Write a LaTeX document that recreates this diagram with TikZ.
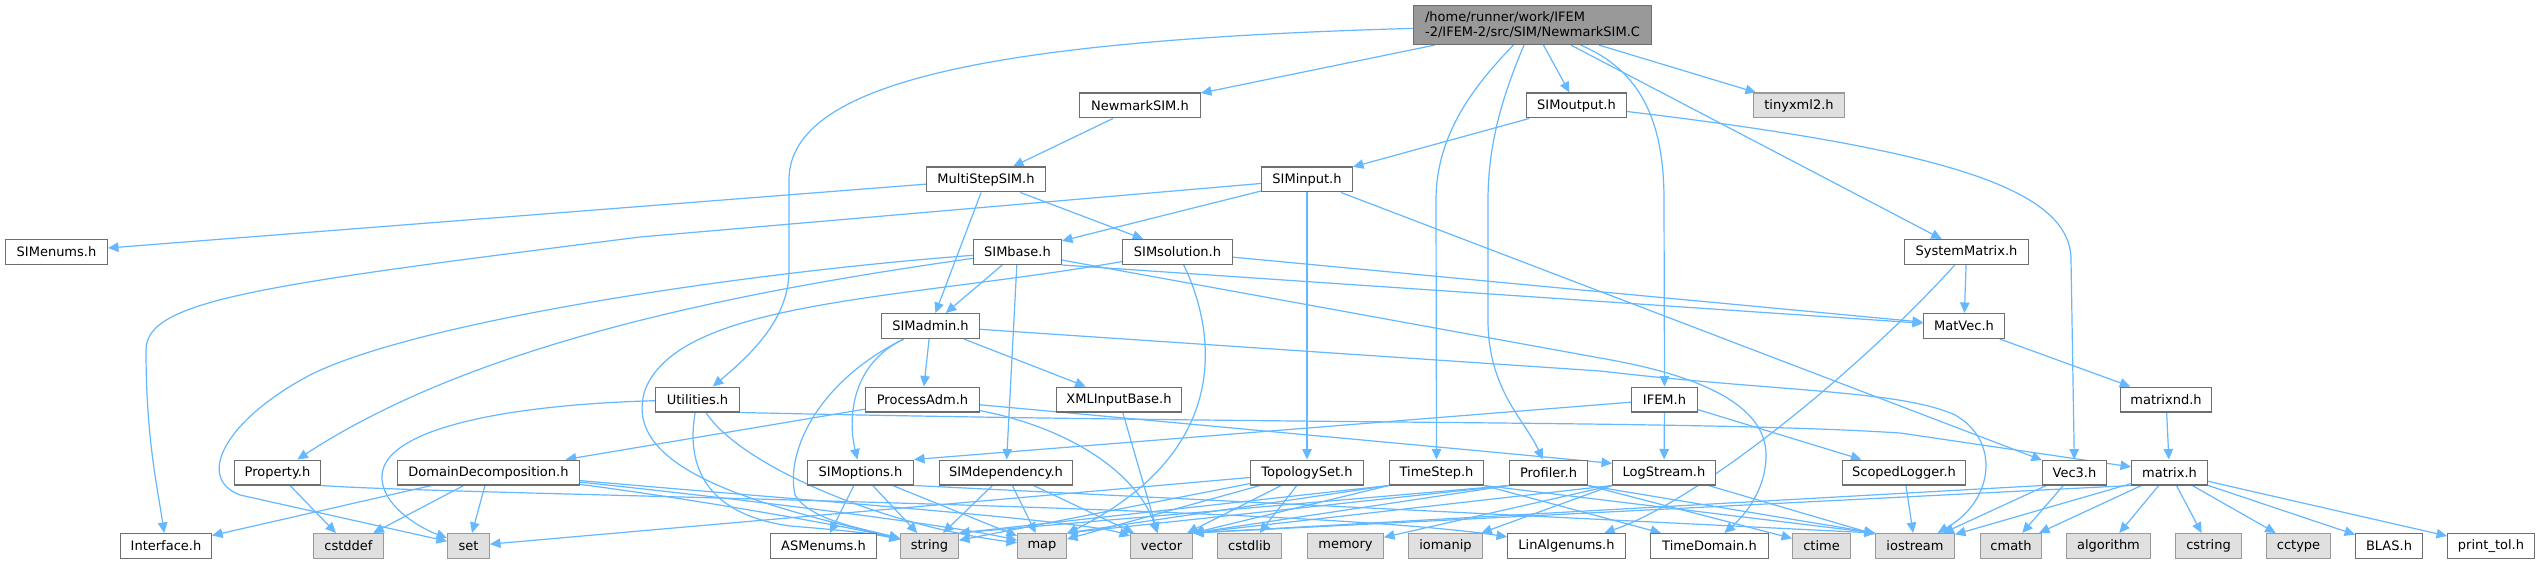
\documentclass[tikz,border=0pt]{standalone}
\usepackage{fontspec}
\setmainfont{DejaVu Sans}
\usetikzlibrary{arrows.meta}
\definecolor{cdark}{HTML}{6E6E6E}
\definecolor{cmid}{HTML}{999999}
\definecolor{cext}{HTML}{E0E0E0}
\definecolor{eblue}{HTML}{63B8FF}
\pgfdeclarelayer{bglayer}
\pgfdeclarelayer{edgelayer}
\pgfsetlayers{bglayer,edgelayer,main}
\tikzset{
  basebox/.style={rectangle, draw, inner sep=0pt, minimum height=24.8pt, line width=1.2pt,
    font=\fontsize{13}{15}\selectfont, text=black},
  nrm/.style={basebox, draw=cdark, fill=white},
  ext/.style={basebox, draw=cmid, fill=cext},
  rootbox/.style={basebox, draw=cdark, fill=cmid, minimum height=39pt, align=left},
  dep/.style={draw=eblue, line width=1.2pt, -{Triangle[length=10.5pt,width=9.5pt]}}
}
\newcommand\mknode[6]{\node[#1, minimum width=#5pt-1.2pt] (#2) at (#3,#4) {#6};}
\begin{document}
\begin{tikzpicture}[x=1pt,y=-1pt]
\useasboundingbox (0,0) rectangle (2543,564);
\begin{pgfonlayer}{bglayer}
\fill[white] (0,0) rectangle (2543,564);
\end{pgfonlayer}
% row 0
\mknode{rootbox}{root}{1532.5}{25}{239}{/home/runner/work/IFEM\\-2/IFEM-2/src/SIM/NewmarkSIM.C}
% row 1
\mknode{nrm}{nsim}{1140}{105.5}{122}{NewmarkSIM.h}
\mknode{nrm}{sout}{1576.5}{105.5}{101}{SIMoutput.h}
\mknode{ext}{txml}{1799}{105.5}{92}{tinyxml2.h}
% row 2
\mknode{nrm}{msim}{986}{179.5}{120}{MultiStepSIM.h}
\mknode{nrm}{sinp}{1307}{179.5}{92}{SIMinput.h}
% row 3
\mknode{nrm}{senum}{56.5}{252}{103}{SIMenums.h}
\mknode{nrm}{sbase}{1017.5}{252}{89}{SIMbase.h}
\mknode{nrm}{ssol}{1177.5}{252}{111}{SIMsolution.h}
\mknode{nrm}{sysm}{1966.5}{252}{125}{SystemMatrix.h}
% row 4
\mknode{nrm}{sadm}{930.5}{326}{99}{SIMadmin.h}
\mknode{nrm}{matvec}{1964}{326}{82}{MatVec.h}
% row 5
\mknode{nrm}{util}{697.5}{399.5}{85}{Utilities.h}
\mknode{nrm}{padm}{922.5}{399.5}{115}{ProcessAdm.h}
\mknode{nrm}{xml}{1119}{399.5}{126}{XMLInputBase.h}
\mknode{nrm}{ifem}{1664.5}{399.5}{67}{IFEM.h}
\mknode{nrm}{mnd}{2166}{399.5}{92}{matrixnd.h}
% row 6
\mknode{nrm}{prop}{277.5}{472.5}{87}{Property.h}
\mknode{nrm}{dd}{488.5}{472.5}{183}{DomainDecomposition.h}
\mknode{nrm}{sopt}{860.5}{472.5}{107}{SIMoptions.h}
\mknode{nrm}{sdep}{1006}{472.5}{134}{SIMdependency.h}
\mknode{nrm}{topo}{1307}{472.5}{114}{TopologySet.h}
\mknode{nrm}{tstep}{1436.5}{472.5}{95}{TimeStep.h}
\mknode{nrm}{prof}{1548.5}{472.5}{79}{Profiler.h}
\mknode{nrm}{logs}{1664}{472.5}{104}{LogStream.h}
\mknode{nrm}{scl}{1904}{472.5}{124}{ScopedLogger.h}
\mknode{nrm}{vec3}{2074.5}{472.5}{65}{Vec3.h}
\mknode{nrm}{mat}{2169.5}{472.5}{77}{matrix.h}
% row 7
\mknode{nrm}{iface}{166}{546}{92}{Interface.h}
\mknode{ext}{cstddef}{348.5}{546}{71}{cstddef}
\mknode{ext}{set}{468.5}{546}{43}{set}
\mknode{nrm}{asme}{823.5}{546}{107}{ASMenums.h}
\mknode{ext}{str}{929.5}{546}{59}{string}
\mknode{ext}{map}{1042}{546}{50}{map}
\mknode{ext}{vec}{1161.5}{546}{63}{vector}
\mknode{ext}{cstdlib}{1249.5}{546}{65}{cstdlib}
\mknode{ext}{memory}{1345.5}{546}{77}{memory}
\mknode{ext}{iomanip}{1445.5}{546}{75}{iomanip}
\mknode{nrm}{linalg}{1566.5}{546}{119}{LinAlgenums.h}
\mknode{nrm}{tdom}{1709.5}{546}{119}{TimeDomain.h}
\mknode{ext}{ctime}{1821.5}{546}{59}{ctime}
\mknode{ext}{iostr}{1915}{546}{80}{iostream}
\mknode{ext}{cmath}{2011}{546}{62}{cmath}
\mknode{ext}{algo}{2108.5}{546}{85}{algorithm}
\mknode{ext}{cstring}{2208.5}{546}{67}{cstring}
\mknode{ext}{cctype}{2298.5}{546}{65}{cctype}
\mknode{nrm}{blas}{2389}{546}{68}{BLAS.h}
\mknode{nrm}{ptol}{2491}{546}{88}{print\_tol.h}

\begin{pgfonlayer}{edgelayer}
% root
\draw[dep] (root) -- (nsim);
\draw[dep] (root) -- (sout);
\draw[dep] (root) -- (txml);
\draw[dep] (root) -- (sysm);
\draw[dep] (root) .. controls (1000,40) and (789,80) .. (789,180) -- (789,270) .. controls (789,320) and (750,355) .. (util);
\draw[dep] (root) .. controls (1480,80) and (1436,130) .. (1436,200) -- (tstep);
\draw[dep] (root) .. controls (1505,90) and (1488,140) .. (1488,200) -- (1488,320) .. controls (1488,390) and (1525,420) .. (prof);
\draw[dep] (root) .. controls (1640,70) and (1664,120) .. (1664,200) -- (ifem);
% SIMoutput
\draw[dep] (sout) -- (sinp);
\draw[dep] (sout) .. controls (1950,150) and (2071,190) .. (2071,260) -- (vec3);
% NewmarkSIM, MultiStepSIM
\draw[dep] (nsim) -- (msim);
\draw[dep] (msim) -- (senum);
\draw[dep] (msim) -- (ssol);
\draw[dep] (msim) -- (sadm);
% SIMinput
\draw[dep] (sinp) -- (sbase);
\draw[dep] (sinp) -- (topo);
\draw[dep] (sinp) -- (vec3);
\draw[dep] (sinp) -- (640,237) .. controls (260,285) and (146,300) .. (146,350) .. controls (146,440) and (158,490) .. (iface);
% SIMbase
\draw[dep] (sbase) -- (sadm);
\draw[dep] (sbase) -- (sdep);
\draw[dep] (sbase.south east) -- (matvec);
\draw[dep] (sbase) .. controls (750,272) and (420,320) .. (310,375) .. controls (225,420) and (195,478) .. (240,495) -- (set);
\draw[dep] (sbase) .. controls (750,290) and (480,340) .. (prop);
\draw[dep] (sbase) -- (1600,358) .. controls (1700,375) and (1766,405) .. (1766,455) .. controls (1766,490) and (1745,515) .. (tdom);
% SIMsolution
\draw[dep] (ssol) -- (matvec);
\draw[dep] (ssol) .. controls (1215,330) and (1235,450) .. (map);
\draw[dep] (ssol) .. controls (900,300) and (680,300) .. (645,390) .. controls (620,470) and (760,505) .. (str);
% SystemMatrix, MatVec
\draw[dep] (sysm) -- (matvec);
\draw[dep] (sysm) .. controls (1860,370) and (1700,500) .. (linalg);
\draw[dep] (matvec) -- (mnd);
\draw[dep] (mnd) -- (mat);
% SIMadmin
\draw[dep] (sadm) -- (padm);
\draw[dep] (sadm) -- (xml);
\draw[dep] (sadm) .. controls (850,365) and (848,420) .. (sopt);
\draw[dep] (sadm) .. controls (820,380) and (785,450) .. (795,495) .. controls (810,520) and (860,528) .. (str);
\draw[dep] (sadm) -- (1600,371) .. controls (1780,392) and (1900,390) .. (1955,415) .. controls (2000,440) and (1995,500) .. (iostr);
% Utilities
\draw[dep] (util) .. controls (500,405) and (385,430) .. (382,475) .. controls (380,505) and (420,528) .. (set);
\draw[dep] (util) .. controls (685,470) and (710,515) .. (790,526) .. controls (840,530) and (870,533) .. (str);
\draw[dep] (util) .. controls (740,465) and (880,525) .. (map);
\draw[dep] (util.south east) .. controls (1300,425) and (1700,420) .. (1900,433) -- (mat);
% ProcessAdm, XMLInputBase
\draw[dep] (padm) -- (dd);
\draw[dep] (padm) .. controls (1200,425) and (1450,448) .. (logs.170);
\draw[dep] (padm) .. controls (1080,430) and (1140,480) .. (vec);
\draw[dep] (xml) -- (vec);
% IFEM
\draw[dep] (ifem) -- (sopt.north east);
\draw[dep] (ifem) -- (logs);
\draw[dep] (ifem) -- (scl);
% Property, DomainDecomposition
\draw[dep] (prop) -- (cstddef);
\draw[dep] (prop.south east) .. controls (450,495) and (1300,505) .. (linalg);
\draw[dep] (dd) -- (iface);
\draw[dep] (dd) -- (cstddef);
\draw[dep] (dd) -- (set);
\draw[dep] (dd) .. controls (700,500) and (840,525) .. (str);
\draw[dep] (dd) .. controls (750,500) and (950,525) .. (map);
\draw[dep] (dd) .. controls (800,500) and (1080,520) .. (vec);
% SIMoptions, SIMdependency
\draw[dep] (sopt) -- (asme);
\draw[dep] (sopt) -- (str);
\draw[dep] (sopt) -- (map);
\draw[dep] (sopt.south east) -- (iostr.north west);
\draw[dep] (sdep) -- (str);
\draw[dep] (sdep) -- (map);
\draw[dep] (sdep) -- (vec);
% TopologySet
\draw[dep] (topo) -- (set);
\draw[dep] (topo) -- (str);
\draw[dep] (topo) -- (map);
\draw[dep] (topo) -- (vec);
\draw[dep] (topo) -- (cstdlib);
% TimeStep
\draw[dep] (tstep.south west) -- (str.north east);
\draw[dep] (tstep.south west) -- (map.north east);
\draw[dep] (tstep.south west) -- (vec.north east);
\draw[dep] (tstep.south east) -- (tdom);
\draw[dep] (tstep.south east) -- (iostr.north west);
% Profiler
\draw[dep] (prof.south west) -- (str.north east);
\draw[dep] (prof.south west) -- (map.north east);
\draw[dep] (prof.south west) -- (vec.north east);
\draw[dep] (prof.south east) -- (ctime);
\draw[dep] (prof.south east) -- (iostr.north west);
% LogStream
\draw[dep] (logs.south west) -- (memory);
\draw[dep] (logs.south west) -- (iomanip);
\draw[dep] (logs.south west) -- (vec.north east);
\draw[dep] (logs) -- (iostr);
% ScopedLogger, Vec3
\draw[dep] (scl) -- (iostr);
\draw[dep] (vec3.south west) -- (vec.north east);
\draw[dep] (vec3) -- (iostr);
\draw[dep] (vec3) -- (cmath);
% matrix
\draw[dep] (mat.south west) -- (vec.north east);
\draw[dep] (mat) -- (iostr);
\draw[dep] (mat) -- (cmath);
\draw[dep] (mat) -- (algo);
\draw[dep] (mat) -- (cstring);
\draw[dep] (mat) -- (cctype);
\draw[dep] (mat) -- (blas);
\draw[dep] (mat) -- (ptol);
\end{pgfonlayer}
\end{tikzpicture}
\end{document}
